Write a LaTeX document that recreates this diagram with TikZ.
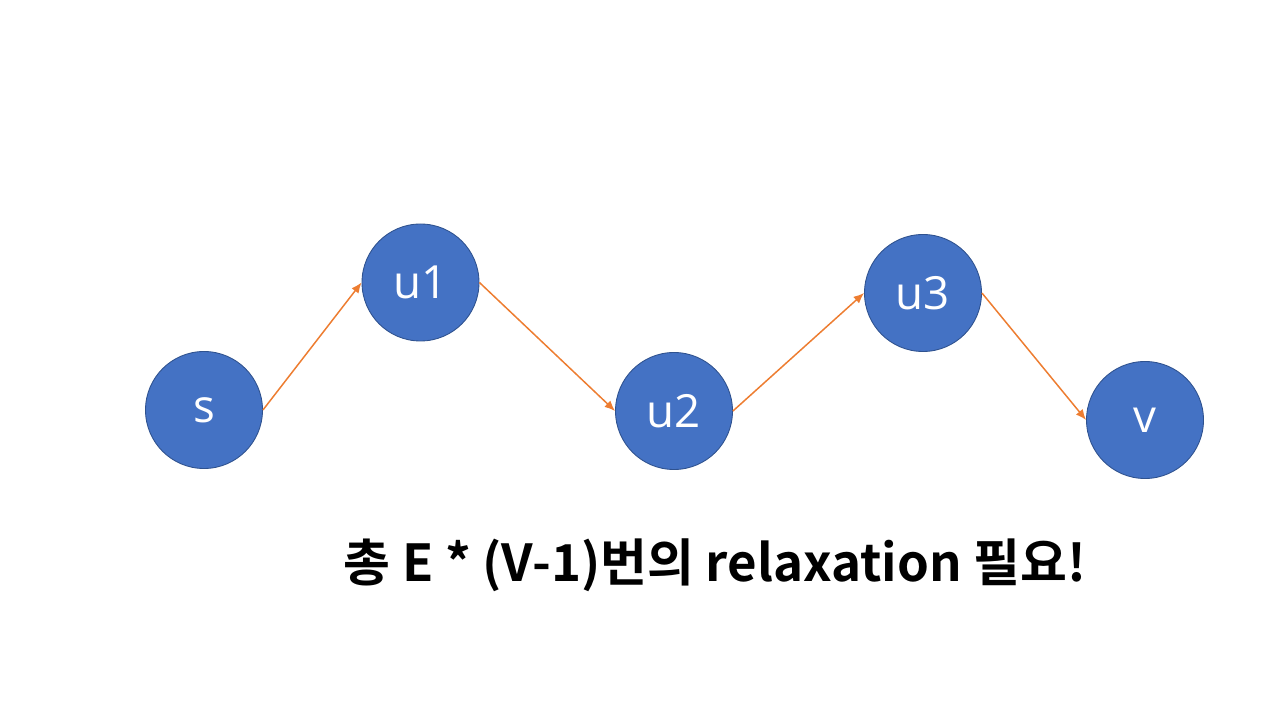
\documentclass[tikz,border=0pt]{standalone}
\usepackage{fontspec}
\setmainfont{Open Sans}
\newfontfamily\kofont{Noto Sans CJK KR Bold}
\usetikzlibrary{arrows.meta}
\definecolor{nodeblue}{HTML}{4472C4}
\definecolor{nodeedge}{HTML}{2F528F}
\definecolor{edgeorange}{HTML}{ED7D31}

\begin{document}
\begin{tikzpicture}[
  vertex/.style={circle, draw=nodeedge, line width=0.5pt, fill=nodeblue, minimum size=2.34cm, inner sep=0pt, text=white, font=\fontsize{26}{30}\selectfont},
  relax/.style={draw=edgeorange, line width=0.85pt, -{Latex[length=6pt, width=5pt]}}
]
  \useasboundingbox (0,0) rectangle (25.6,14.4);

  % Sommets
  \node[vertex] (s)  at (4.08,6.2)  {s};
  \node[vertex] (u1) at (8.41,8.75) {u1};
  \node[vertex] (u2) at (13.48,6.18) {u2};
  \node[vertex] (u3) at (18.46,8.54) {u3};
  \node[vertex] (v)  at (22.9,6.0)  {v};

  % Arcs
  \draw[relax] (s.east) -- (u1.west);
  \draw[relax] (u1.east) -- (u2.west);
  \draw[relax] (u2.east) -- (u3.west);
  \draw[relax] (u3.east) -- (v.west);

  % Texte
  \node[font=\kofont\fontsize{29}{34}\selectfont] (note) at (14.3,3.1) {총 E * (V-1)번의 relaxation 필요!};
\end{tikzpicture}
\end{document}
